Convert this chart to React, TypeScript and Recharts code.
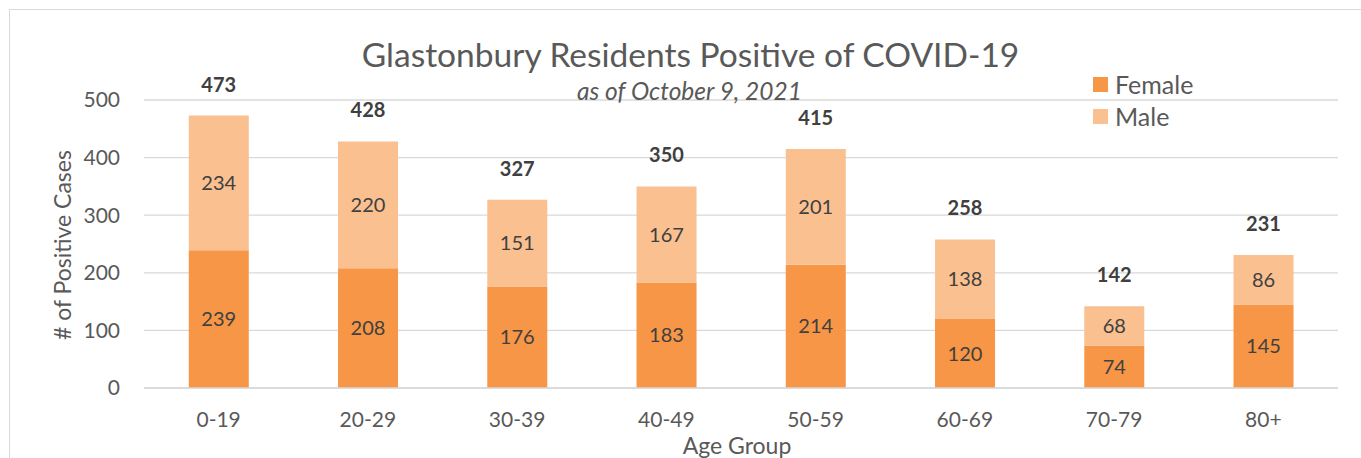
import React from 'react';
import { BarChart, Bar, XAxis, YAxis, CartesianGrid, LabelList } from 'recharts';

const categories = ['0-19', '20-29', '30-39', '40-49', '50-59', '60-69', '70-79', '80+'];
const female = [239, 208, 176, 183, 214, 120, 74, 145];
const male = [234, 220, 151, 167, 201, 138, 68, 86];
const totals = [473, 428, 327, 350, 415, 258, 142, 231];
const yTicks = [0, 100, 200, 300, 400, 500];

const data = categories.map((c, i) => ({ age: c, Female: female[i], Male: male[i], total: totals[i] }));

const FONT = 'Lato, "Open Sans", sans-serif';
const FEMALE_COLOR = '#F79646';
const MALE_COLOR = '#FAC090';

export default function App() {
  return (
    <div style={{ position: 'fixed', left: 0, top: 0, width: 1361, height: 458, overflow: 'hidden', background: '#fff', fontFamily: FONT }}>
      <div style={{ position: 'absolute', left: 9, top: 9, width: 1500, height: 600, border: '1px solid #d9d9d9', boxSizing: 'border-box' }} />
      <BarChart
        width={1361}
        height={458}
        data={data}
        margin={{ top: 100, right: 23, bottom: 0, left: 84 }}
        barCategoryGap="30%"
        style={{ position: 'absolute', left: 0, top: 0 }}
      >
        <CartesianGrid vertical={false} stroke="#d9d9d9" strokeWidth={1.3} />
        <XAxis
          dataKey="age"
          height={70}
          tickLine={false}
          axisLine={{ stroke: '#d9d9d9', strokeWidth: 1.3 }}
          tickSize={0}
          tickMargin={24}
          tick={{ fill: '#595959', fontSize: 21, fontFamily: FONT }}
        />
        <YAxis
          width={60}
          domain={[0, 500]}
          ticks={yTicks}
          tickLine={false}
          axisLine={false}
          tickSize={0}
          tickMargin={24}
          tick={{ fill: '#595959', fontSize: 21, fontFamily: FONT }}
        />
        <Bar dataKey="Female" stackId="a" fill={FEMALE_COLOR} isAnimationActive={false}>
          <LabelList dataKey="Female" position="center" fill="#404040" fontSize={20} fontFamily={FONT} />
        </Bar>
        <Bar dataKey="Male" stackId="a" fill={MALE_COLOR} isAnimationActive={false}>
          <LabelList dataKey="Male" position="center" fill="#404040" fontSize={20} fontFamily={FONT} />
          <LabelList dataKey="total" position="top" offset={24} fill="#404040" fontSize={20} fontWeight="bold" fontFamily={FONT} />
        </Bar>
      </BarChart>
      <div style={{ position: 'absolute', left: 0, width: 1381, top: 34, textAlign: 'center', fontSize: 33.5, color: '#595959', lineHeight: '40px', whiteSpace: 'nowrap' }}>
        Glastonbury Residents Positive of COVID-19
      </div>
      <div style={{ position: 'absolute', left: 0, width: 1379, top: 77, textAlign: 'center', fontSize: 24.5, fontStyle: 'italic', color: '#595959', lineHeight: '28px', whiteSpace: 'nowrap' }}>
        as of October 9, 2021
      </div>
      <div style={{ position: 'absolute', left: 1093, top: 68, fontSize: 25, color: '#595959', lineHeight: '28px' }}>
        <div style={{ display: 'flex', alignItems: 'center', height: 32 }}>
          <span style={{ width: 15, height: 15, background: FEMALE_COLOR, display: 'inline-block', marginRight: 7 }} />
          <span>Female</span>
        </div>
        <div style={{ display: 'flex', alignItems: 'center', height: 32 }}>
          <span style={{ width: 15, height: 15, background: MALE_COLOR, display: 'inline-block', marginRight: 7 }} />
          <span>Male</span>
        </div>
      </div>
      <div style={{ position: 'absolute', left: 62, top: 245, width: 0, height: 0 }}>
        <div style={{ position: 'absolute', left: 0, top: 0, transform: 'translate(-50%, -50%) rotate(-90deg)', fontSize: 23, color: '#595959', whiteSpace: 'nowrap', lineHeight: '26px' }}>
          # of Positive Cases
        </div>
      </div>
      <div style={{ position: 'absolute', left: 0, width: 1474, top: 431, textAlign: 'center', fontSize: 23, color: '#595959', lineHeight: '28px', whiteSpace: 'nowrap' }}>
        Age Group
      </div>
    </div>
  );
}
